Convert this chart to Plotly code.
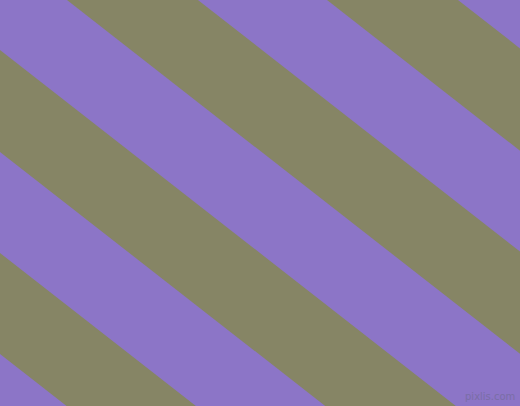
import plotly.graph_objects as go

# diagonal stripe pattern (pixels)
slope = 0.781                      # dy/dx of the stripe edges
stripe_start = [-357.7, -154.6, 50, 253]   # y-intercept where each olive band starts
stripe_end = [-255.4, -52.3, 152, 354]     # y-intercept where it ends
purple = "#8c75c7"
olive = "#868565"

W, H = 520, 406

fig = go.Figure()
for c1, c2 in zip(stripe_start, stripe_end):
    xs = [-20, W + 20, W + 20, -20, -20]
    ys = [c1 + slope * -20, c1 + slope * (W + 20), c2 + slope * (W + 20), c2 + slope * -20, c1 + slope * -20]
    fig.add_trace(go.Scatter(x=xs, y=ys, mode="lines", fill="toself",
                             fillcolor=olive, line=dict(width=0, color=olive),
                             hoverinfo="skip", showlegend=False))

# little watermark bottom right
fig.add_annotation(text="pixlis.com", x=490, y=396, xref="x", yref="y",
                   showarrow=False, font=dict(family="DejaVu Sans", size=10, color="#7a6ea6"))

fig.update_layout(width=W, height=H, margin=dict(l=0, r=0, t=0, b=0),
                  paper_bgcolor=purple, plot_bgcolor=purple)
fig.update_xaxes(range=[0, W], visible=False, fixedrange=True)
fig.update_yaxes(range=[H, 0], visible=False, fixedrange=True)

# the page has a default body margin, drop it so the figure fills the window
fig.write_html("out.html", config={"displayModeBar": False},
               post_script="document.body.style.margin='0';document.body.style.overflow='hidden';")
